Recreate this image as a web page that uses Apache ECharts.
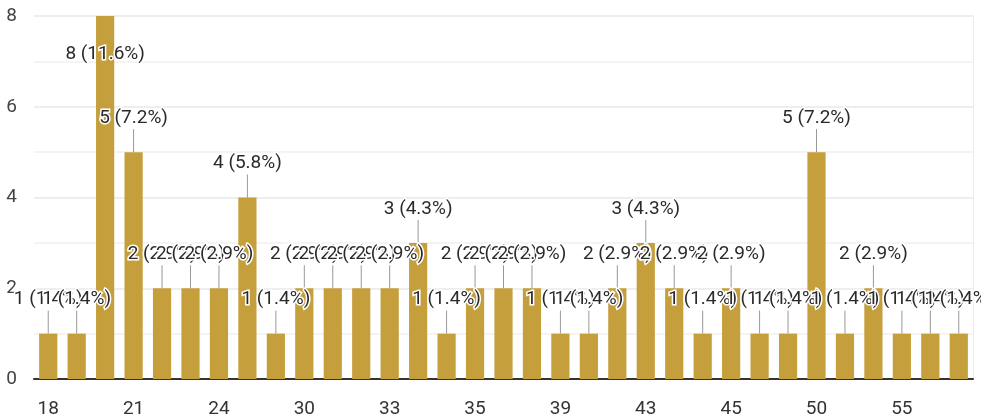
<!DOCTYPE html>
<html>
<head>
<meta charset="utf-8">
<script src="https://cdn.jsdelivr.net/npm/echarts@6/dist/echarts.min.js"></script>
<style>
  html, body { margin: 0; padding: 0; background: #fff; }
  #chart { width: 981px; height: 419px; }
</style>
</head>
<body>
<div id="chart"></div>
<script>
// ages (answers) and how many people gave each
var ages = ['18', '19', '20', '21', '22', '23', '24', '25', '27', '30', '31',
            '32', '33', '34', '34 ', '35', '36', '37', '39', '40', '42',
            '43', '44', '44 ', '45', '46', '48', '50', '52', '54', '55',
            '57', '60'];
var counts = [1, 1, 8, 5, 2, 2, 2, 4, 1, 2, 2,
              2, 2, 3, 1, 2, 2, 2, 1, 1, 2,
              3, 2, 1, 2, 1, 1, 5, 1, 2, 1,
              1, 1];
var yTicks = [0, 2, 4, 6, 8];

var total = counts.reduce(function (a, b) { return a + b; }, 0);

var chart = echarts.init(document.getElementById('chart'));

var option = {
    animation: false,
    textStyle: { fontFamily: 'Roboto' },
    grid: { left: 34, right: 8, top: 16, bottom: 40 },
    xAxis: {
        type: 'category',
        data: ages,
        axisTick: { show: false },
        axisLine: { lineStyle: { color: '#333', width: 2 } },
        axisLabel: { interval: 2, fontSize: 19, color: '#333', margin: 21 }
    },
    yAxis: [
        {
            type: 'value',
            min: 0,
            max: 8,
            interval: 1,
            axisLabel: {
                fontSize: 19,
                color: '#444',
                margin: 17,
                formatter: function (v) {
                    return yTicks.indexOf(v) >= 0 ? String(v) : '';
                }
            },
            splitLine: { lineStyle: { color: ['#e8e8e8', '#f1f1f1'], width: 1.5 } }
        },
        {
            type: 'value',
            position: 'right',
            min: 0,
            max: 8,
            axisLine: { show: true, lineStyle: { color: '#ececec' } },
            axisLabel: { show: false },
            axisTick: { show: false },
            splitLine: { show: false }
        }
    ],
    series: [
        {
            type: 'bar',
            data: counts,
            barWidth: '64%',
            itemStyle: { color: '#c69f3d' },
            label: {
                show: true,
                position: 'top',
                fontSize: 19,
                color: '#2a2a2a',
                textBorderColor: '#fff',
                textBorderWidth: 3,
                formatter: function (p) {
                    return p.value + ' (' + (p.value / total * 100).toFixed(1) + '%)';
                }
            },
            labelLine: { show: true, lineStyle: { color: '#999', width: 1 } },
            labelLayout: function (p) {
                var r = p.rect;
                var cx = r.x + r.width / 2;
                var h = p.labelRect.height;
                // no room above the tallest bar: put the label inside it
                if (r.y < 40) {
                    var cyIn = r.y + 38;
                    return {
                        x: cx, y: cyIn, align: 'center', verticalAlign: 'middle',
                        labelLinePoints: [[cx, r.y], [cx, cyIn - h / 2]]
                    };
                }
                var cy = r.y - 34;
                return {
                    x: cx, y: cy, align: 'center', verticalAlign: 'middle',
                    labelLinePoints: [[cx, r.y], [cx, cy + h / 2]]
                };
            }
        }
    ]
};

chart.setOption(option);
</script>
</body>
</html>
